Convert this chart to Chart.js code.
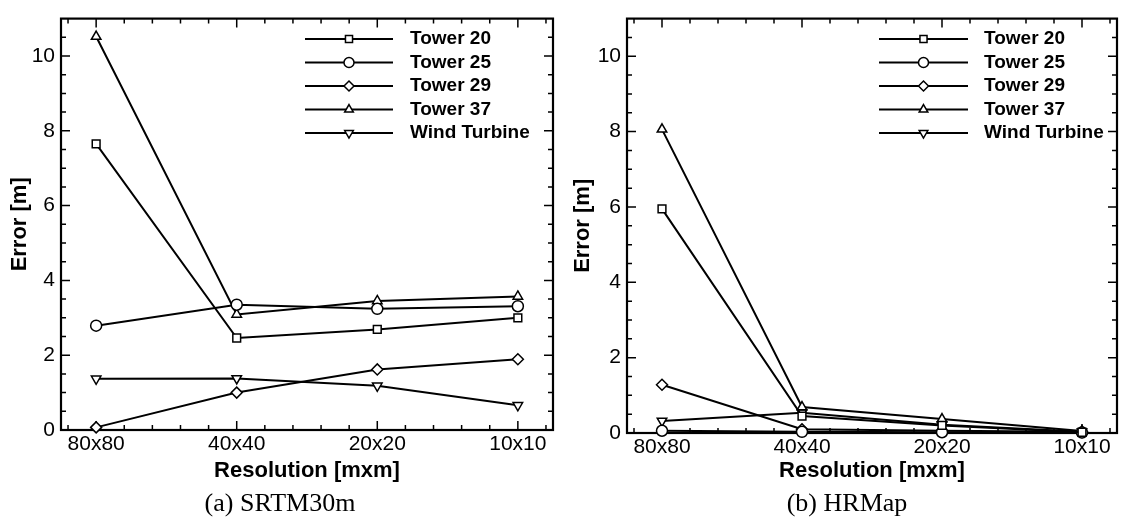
<!DOCTYPE html>
<html>
<head>
<meta charset="utf-8">
<script src="https://cdn.jsdelivr.net/npm/chart.js@4.4.0/dist/chart.umd.min.js"></script>
<style>
  body { margin: 0; background: #fff; width: 1124px; height: 526px; position: relative; overflow: hidden; }
  .panel { position: absolute; top: 0; width: 562px; height: 490px; }
  .caption { position: absolute; top: 488px; width: 300px; text-align: center;
             font-family: "Liberation Serif", serif; font-size: 26px; color: #000; line-height: 30px; }
</style>
</head>
<body>
<div class="panel" style="left:0"><canvas id="graficoA" width="562" height="490"></canvas></div>
<div class="panel" style="left:562px"><canvas id="graficoB" width="562" height="490"></canvas></div>
<div class="caption" style="left:130px">(a) SRTM30m</div>
<div class="caption" style="left:697px">(b) HRMap</div>
<script>
// categorias y series
const categories = ['80x80', '40x40', '20x20', '10x10'];
const seriesNames = ['Tower 20', 'Tower 25', 'Tower 29', 'Tower 37', 'Wind Turbine'];
const yTicks = [0, 2, 4, 6, 8, 10];

// (a) SRTM30m
const srtmTower20 = [7.65, 2.46, 2.69, 3.0];
const srtmTower25 = [2.79, 3.35, 3.24, 3.31];
const srtmTower29 = [0.07, 1.0, 1.62, 1.89];
const srtmTower37 = [10.52, 3.09, 3.45, 3.57];
const srtmWind = [1.37, 1.38, 1.18, 0.66];

// (b) HRMap
const hrTower20 = [5.95, 0.45, 0.2, 0.02];
const hrTower25 = [0.06, 0.03, 0.02, 0.01];
const hrTower29 = [1.28, 0.1, 0.06, 0.03];
const hrTower37 = [8.06, 0.69, 0.37, 0.05];
const hrWind = [0.32, 0.54, 0.22, 0.03];

const markers = [
  { style: 'rect', rot: 0 },
  { style: 'circle', rot: 0 },
  { style: 'rectRot', rot: 0 },
  { style: 'triangle', rot: 0 },
  { style: 'triangle', rot: 180 }
];

Chart.defaults.font.family = '"Liberation Sans", Arial, sans-serif';
Chart.defaults.color = '#000';

// marco con marcas hacia dentro
const frameTicks = {
  id: 'frameTicks',
  beforeDatasetsDraw(chart) {
    const { ctx, chartArea: a, scales: { x, y } } = chart;
    ctx.save();
    ctx.strokeStyle = '#000';
    ctx.lineWidth = 1.5;
    ctx.beginPath();
    for (let k = -1; k <= 16; k++) {
      const px = x.getPixelForValue(k * 0.2);
      if (px < a.left + 1 || px > a.right - 1) continue;
      const len = k % 5 === 0 ? 9 : 5;
      ctx.moveTo(px, a.bottom); ctx.lineTo(px, a.bottom - len);
      ctx.moveTo(px, a.top); ctx.lineTo(px, a.top + len);
    }
    for (let k = 1; k <= 21; k++) {
      const py = y.getPixelForValue(k * 0.5);
      const len = k % 4 === 0 ? 9 : 5;
      ctx.moveTo(a.left, py); ctx.lineTo(a.left + len, py);
      ctx.moveTo(a.right, py); ctx.lineTo(a.right - len, py);
    }
    ctx.stroke();
    ctx.lineWidth = 2.2;
    ctx.strokeRect(a.left, a.top, a.right - a.left, a.bottom - a.top);
    ctx.restore();
  }
};

// leyenda dentro del grafico
const legendBox = {
  id: 'legendBox',
  afterDatasetsDraw(chart, args, opts) {
    const ctx = chart.ctx;
    ctx.save();
    chart.data.datasets.forEach((ds, i) => {
      const yy = opts.top + i * opts.gap;
      ctx.strokeStyle = '#000';
      ctx.lineWidth = 2;
      ctx.beginPath();
      ctx.moveTo(opts.x1, yy);
      ctx.lineTo(opts.x2, yy);
      ctx.stroke();
      ctx.fillStyle = '#fff';
      ctx.lineWidth = 1.5;
      Chart.helpers.drawPoint(ctx, { pointStyle: ds.pointStyle, rotation: ds.pointRotation, radius: 5, borderWidth: 1.5 },
        (opts.x1 + opts.x2) / 2, yy);
      ctx.fillStyle = '#000';
      ctx.font = 'bold 19px "Liberation Sans", Arial, sans-serif';
      ctx.textBaseline = 'middle';
      ctx.textAlign = 'left';
      ctx.fillText(ds.label, opts.textX, yy);
    });
    ctx.restore();
  }
};

function makeDatasets(seriesList) {
  return seriesList.map((vals, i) => ({
    label: seriesNames[i],
    data: categories.map((c, j) => ({ x: j, y: vals[j] })),
    borderColor: '#000',
    borderWidth: 2,
    backgroundColor: '#fff',
    pointStyle: markers[i].style,
    pointRotation: markers[i].rot,
    pointRadius: 5.5,
    pointBorderWidth: 1.5,
    pointBackgroundColor: '#fff',
    pointBorderColor: '#000',
    tension: 0,
    clip: false
  }));
}

function crearGrafico(id, seriesList, geo) {
  return new Chart(document.getElementById(id).getContext('2d'), {
    type: 'line',
    data: { datasets: makeDatasets(seriesList) },
    options: {
      responsive: false,
      animation: false,
      devicePixelRatio: 1,
      layout: { padding: { top: geo.top, right: geo.right, left: 0, bottom: 0 } },
      plugins: {
        legend: { display: false },
        tooltip: { enabled: false },
        legendBox: geo.legend
      },
      scales: {
        x: {
          type: 'linear',
          min: -0.25,
          max: 3.25,
          afterBuildTicks: s => { s.ticks = categories.map((c, i) => ({ value: i })); },
          afterFit: s => { s.height = geo.xHeight; },
          ticks: { callback: v => categories[v], font: { size: 21 }, padding: 2, maxRotation: 0 },
          grid: { display: false, drawTicks: false },
          border: { display: false },
          title: { display: true, text: 'Resolution [mxm]', font: { size: 22, weight: 'bold' }, padding: { top: 0, bottom: 6 } }
        },
        y: {
          min: 0,
          max: 11,
          afterBuildTicks: s => { s.ticks = yTicks.map(v => ({ value: v })); },
          afterFit: s => { s.width = geo.yWidth; },
          ticks: { font: { size: 21 }, padding: 6 },
          grid: { display: false, drawTicks: false },
          border: { display: false },
          title: { display: true, text: 'Error [m]', font: { size: 22, weight: 'bold' }, padding: { top: geo.yTitlePad, bottom: 0 } }
        }
      }
    },
    plugins: [frameTicks, legendBox]
  });
}

crearGrafico('graficoA', [srtmTower20, srtmTower25, srtmTower29, srtmTower37, srtmWind], {
  top: 12, right: 9, yWidth: 61, xHeight: 60, yTitlePad: 7,
  legend: { x1: 305, x2: 393, textX: 410, top: 39, gap: 23.5 }
});

crearGrafico('graficoB', [hrTower20, hrTower25, hrTower29, hrTower37, hrWind], {
  top: 13, right: 3, yWidth: 65, xHeight: 57, yTitlePad: 8,
  legend: { x1: 317, x2: 406, textX: 422, top: 39, gap: 23.5 }
});
</script>
</body>
</html>
